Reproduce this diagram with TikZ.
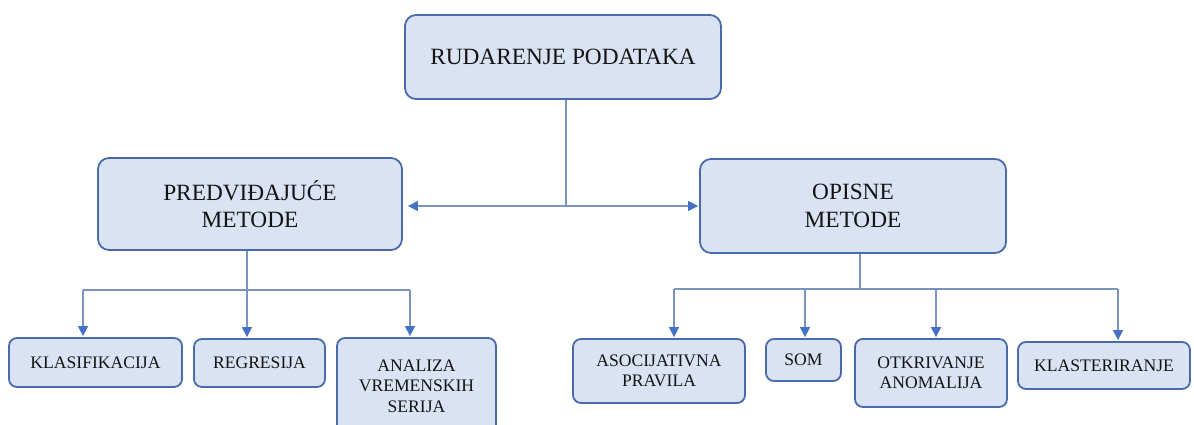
\documentclass[tikz,border=0pt]{standalone}
\usepackage{fontspec}
\setmainfont{Liberation Serif}
\newfontfamily\diagfont{Liberation Serif}
\usetikzlibrary{arrows.meta}
\definecolor{boxc}{RGB}{74,107,170}
\definecolor{fillc}{RGB}{218,227,243}
\definecolor{linec}{RGB}{122,146,190}
\definecolor{tipc}{RGB}{68,114,196}
\definecolor{textc}{RGB}{20,20,20}
\tikzset{
  box/.style={draw=boxc, fill=fillc, line width=1.8pt, rounded corners=11pt,
    align=center, inner sep=0pt, text=textc, font=\diagfont\fontsize{23.3}{27.5}\selectfont},
  smallbox/.style={box, rounded corners=8pt, font=\diagfont\fontsize{17.6}{20.5}\selectfont},
  conn/.style={draw=linec, line width=1.3pt},
  arr/.style={-{Triangle[length=10pt,width=10pt,color=tipc]}},
  biarr/.style={{Triangle[length=10pt,width=10pt,color=tipc]}-{Triangle[length=10pt,width=10pt,color=tipc]}}
}
\begin{document}
\begin{tikzpicture}[x=1pt,y=-1pt]
\useasboundingbox (0,0) rectangle (1194,424);
% main nodes
\node[box, minimum width=316pt, minimum height=84pt] (top) at (563,57) {RUDARENJE PODATAKA};
\node[box, minimum width=304pt, minimum height=92pt] (pred) at (250,204) {PREDVIĐAJUĆE\\METODE};
\node[box, minimum width=306pt, minimum height=94pt] (opis) at (853,206) {OPISNE\\METODE};
% left children
\node[smallbox, minimum width=173pt, minimum height=49pt] (klas) at (95.5,362.5) {KLASIFIKACIJA};
\node[smallbox, minimum width=131pt, minimum height=48pt] (regr) at (259.5,363) {REGRESIJA};
\node[smallbox, minimum width=159pt, minimum height=96pt] (anal) at (416.5,386) {ANALIZA\\VREMENSKIH\\SERIJA};
% right children
\node[smallbox, minimum width=172pt, minimum height=64pt] (asoc) at (659,371) {ASOCIJATIVNA\\PRAVILA};
\node[smallbox, minimum width=75pt, minimum height=42pt] (som) at (803.5,360) {SOM};
\node[smallbox, minimum width=152pt, minimum height=68pt] (otkr) at (931,373) {OTKRIVANJE\\ANOMALIJA};
\node[smallbox, minimum width=172pt, minimum height=47pt] (klast) at (1104,365.5) {KLASTERIRANJE};
% top connectors
\coordinate (hj) at (566,206);
\draw[conn] ([xshift=3pt]top.south) -- ([xshift=3pt]top.south |- hj);
\draw[conn,biarr,shorten <=5pt,shorten >=1pt] (pred.east |- hj) -- (opis.west |- hj);
% left tree
\coordinate (lbar) at (0,290);
\draw[conn] ([xshift=-3pt]pred.south) -- ([xshift=-3pt]pred.south |- lbar);
\draw[conn] ([xshift=-12.5pt]klas.north |- lbar) -- ([xshift=-6.5pt]anal.north |- lbar);
\draw[conn,arr,shorten >=1pt] ([xshift=-12.5pt]klas.north |- lbar) -- ([xshift=-12.5pt]klas.north);
\draw[conn,arr,shorten >=1pt] ([xshift=-12.5pt]regr.north |- lbar) -- ([xshift=-12.5pt]regr.north);
\draw[conn,arr,shorten >=1pt] ([xshift=-6.5pt]anal.north |- lbar) -- ([xshift=-6.5pt]anal.north);
% right tree
\coordinate (rbar) at (0,289);
\draw[conn] ([xshift=7pt]opis.south) -- ([xshift=7pt]opis.south |- rbar);
\draw[conn] ([xshift=15pt]asoc.north |- rbar) -- ([xshift=14pt]klast.north |- rbar);
\draw[conn,arr,shorten >=1pt] ([xshift=15pt]asoc.north |- rbar) -- ([xshift=15pt]asoc.north);
\draw[conn,arr,shorten >=1pt] ([xshift=1.5pt]som.north |- rbar) -- ([xshift=1.5pt]som.north);
\draw[conn,arr,shorten >=1pt] ([xshift=5pt]otkr.north |- rbar) -- ([xshift=5pt]otkr.north);
\draw[conn,arr,shorten >=1pt] ([xshift=14pt]klast.north |- rbar) -- ([xshift=14pt]klast.north);
\end{tikzpicture}
\end{document}
